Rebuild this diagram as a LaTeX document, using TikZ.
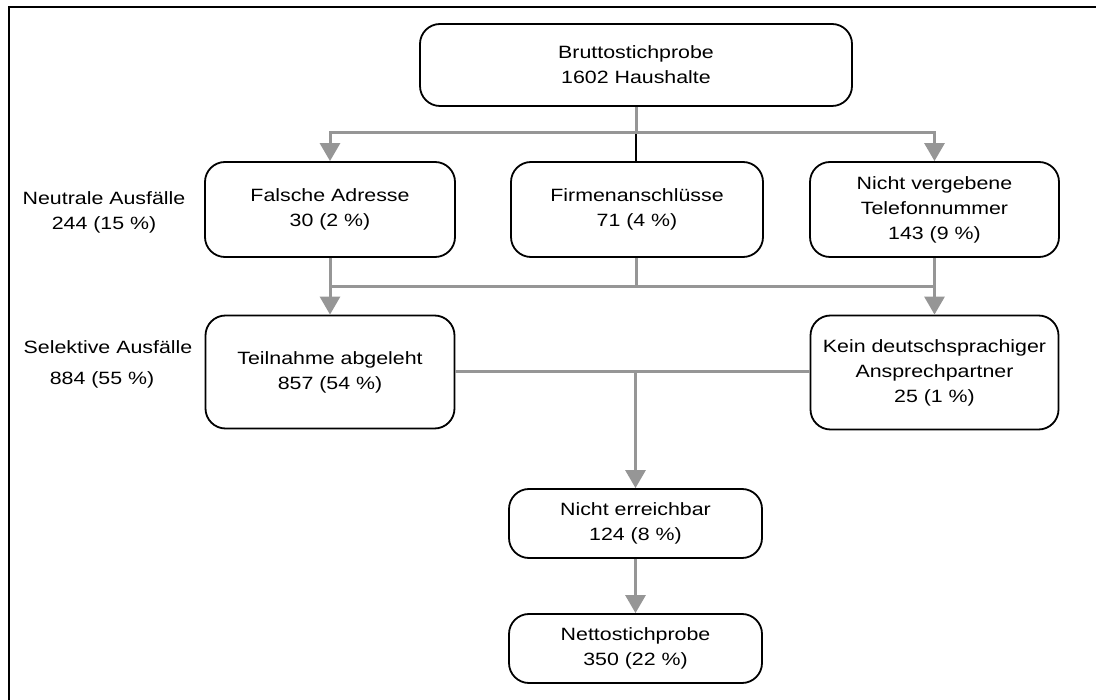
\documentclass[tikz,border=0pt]{standalone}
\usepackage{fontspec}
\setmainfont{Liberation Sans}[FakeStretch=1.2]
\usetikzlibrary{arrows.meta,calc}
\definecolor{linegray}{RGB}{150,150,150}
\tikzset{
  box/.style={draw=black, line width=1.8pt, rounded corners=20pt, align=center,
    inner sep=0pt, font=\fontsize{17.8}{25}\selectfont},
  lbl/.style={align=center, inner sep=0pt, font=\fontsize{17.8}{25}\selectfont},
  gline/.style={draw=linegray, line width=3pt},
  garrow/.style={gline, -{Triangle[width=20pt,length=18pt]}},
}
\begin{document}
\begin{tikzpicture}[x=1pt,y=-1pt]
  \useasboundingbox (0,0) rectangle (1096,700);
  % frame
  \draw[line width=2pt] (9,700) -- (9,7) -- (1096,7);

  % boxes
  \node[box, minimum width=432pt, minimum height=82pt] (brutto) at (636,65)
    {Bruttostichprobe\\1602 Haushalte};
  \node[box, minimum width=250pt, minimum height=95pt] (falsch) at (330,209.5)
    {Falsche Adresse\\30 (2 \%)};
  \node[box, minimum width=252pt, minimum height=95pt] (firmen) at (637,209.5)
    {Firmenanschlüsse\\71 (4 \%)};
  \node[box, minimum width=249pt, minimum height=95pt] (nicht) at (934.5,209.5)
    {Nicht vergebene\\Telefonnummer\\143 (9 \%)};
  \node[box, minimum width=249pt, minimum height=113pt] (teil) at (330,372)
    {Teilnahme abgeleht\\857 (54 \%)};
  \node[box, minimum width=248pt, minimum height=114pt] (kein) at (934.5,372.5)
    {Kein deutschsprachiger\\Ansprechpartner\\25 (1 \%)};
  \node[box, minimum width=253pt, minimum height=69pt] (erreich) at (635.5,523.5)
    {Nicht erreichbar\\124 (8 \%)};
  \node[box, minimum width=253pt, minimum height=69pt] (netto) at (635.5,648.5)
    {Nettostichprobe\\350 (22 \%)};

  % side labels
  \node[lbl] (neutral) at (104,212.5) {Neutrale Ausfälle\\244 (15 \%)};
  \node[lbl] (selektiv) at (108,347) {Selektive Ausfälle};
  \node[lbl] (selnum) at (102,380) {884 (55 \%)};

  % first split
  \coordinate (j1) at (636,133);
  \draw[gline] (brutto.south) -- (j1);
  \draw[black, line width=2pt] (j1) -- (firmen.north -| j1);
  \draw[garrow] (j1) -| (falsch.north);
  \draw[garrow] (j1) -| (nicht.north);

  % second split
  \coordinate (j2) at (636,287);
  \draw[gline] (falsch.south |- j2) -- (nicht.south |- j2);
  \draw[gline] (firmen.south -| j2) -- (j2);
  \draw[garrow] (falsch.south) -- (teil.north);
  \draw[garrow] (nicht.south) -- (kein.north);

  % merge
  \draw[gline] (teil.east) -- (teil.east -| kein.west);
  \coordinate (j3) at (teil.east -| erreich.north);
  \draw[garrow] (j3) -- (erreich.north);
  \draw[garrow] (erreich.south) -- (netto.north);
\end{tikzpicture}
\end{document}
